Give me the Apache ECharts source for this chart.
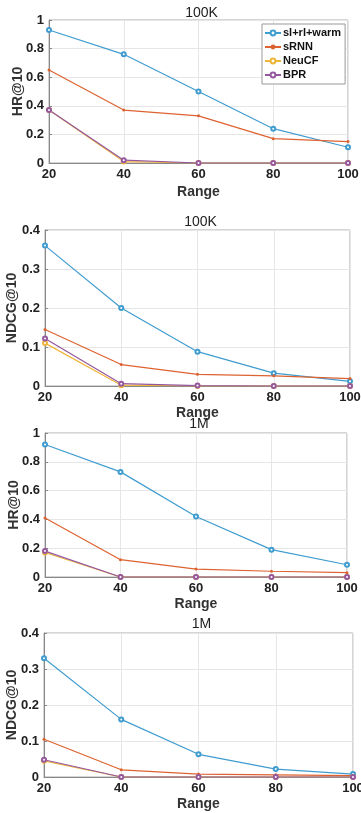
<!DOCTYPE html>
<html>
<head>
<meta charset="utf-8">
<script src="https://cdn.jsdelivr.net/npm/echarts@6/dist/echarts.min.js"></script>
<style>
  html, body { margin: 0; padding: 0; background: #fff; }
  #chart { width: 361px; height: 813px; }
</style>
</head>
<body>
<div id="chart"></div>
<script>
// x values shared by all four panels
const ranges = [20, 40, 60, 80, 100];
const methods = ['sl+rl+warm', 'sRNN', 'NeuCF', 'BPR'];
const colors = ['#3f9ccf', '#dd6230', '#efb53a', '#95589f'];

// one row per method, same order as methods
const hr100k = [
    [0.93, 0.76, 0.50, 0.24, 0.11],
    [0.65, 0.37, 0.33, 0.17, 0.15],
    [0.37, 0.01, 0, 0, 0],
    [0.37, 0.02, 0, 0, 0]
];
const ndcg100k = [
    [0.36, 0.20, 0.088, 0.033, 0.012],
    [0.145, 0.055, 0.030, 0.026, 0.019],
    [0.11, 0.002, 0, 0, 0],
    [0.122, 0.006, 0.001, 0, 0]
];
const hr1m = [
    [0.92, 0.73, 0.42, 0.19, 0.085],
    [0.41, 0.12, 0.055, 0.04, 0.03],
    [0.17, 0, 0, 0, 0],
    [0.18, 0, 0, 0, 0]
];
const ndcg1m = [
    [0.33, 0.16, 0.063, 0.022, 0.008],
    [0.105, 0.02, 0.008, 0.006, 0.004],
    [0.045, 0, 0, 0, 0],
    [0.048, 0, 0, 0, 0]
];

const panels = [
    { title: '100K', yName: 'HR@10', yMax: 1, yStep: 0.2, data: hr100k,
      grid: { left: 49, top: 20, width: 299, height: 143 }, titleTop: 1, yGap: 24, xGap: 22 },
    { title: '100K', yName: 'NDCG@10', yMax: 0.4, yStep: 0.1, data: ndcg100k,
      grid: { left: 45, top: 230, width: 305, height: 156 }, titleTop: 210, yGap: 26, xGap: 20 },
    { title: '1M', yName: 'HR@10', yMax: 1, yStep: 0.2, data: hr1m,
      grid: { left: 45, top: 433, width: 302, height: 144 }, titleTop: 412, yGap: 24, xGap: 20 },
    { title: '1M', yName: 'NDCG@10', yMax: 0.4, yStep: 0.1, data: ndcg1m,
      grid: { left: 44, top: 633, width: 309, height: 144 }, titleTop: 612, yGap: 25, xGap: 20 }
];

const font = 'Liberation Sans, Arial, sans-serif';
const mychart = echarts.init(document.getElementById('chart'), null, { renderer: 'canvas' });

const grids = [], xAxes = [], yAxes = [], titles = [], series = [];
panels.forEach((p, i) => {
    grids.push(Object.assign({
        show: true, borderColor: '#aaa', borderWidth: 1, backgroundColor: '#fff',
        containLabel: false, outerBoundsMode: 'none'
    }, p.grid));
    titles.push({
        text: p.title,
        left: p.grid.left + p.grid.width / 2 - 2,
        textAlign: 'center',
        top: p.titleTop,
        textStyle: { fontSize: 14, fontWeight: 'normal', color: '#222', fontFamily: font }
    });
    xAxes.push({
        type: 'value', gridIndex: i, min: 20, max: 100, interval: 20,
        name: 'Range', nameLocation: 'middle', nameGap: p.xGap, nameMoveOverlap: false,
        nameTextStyle: { fontSize: 14, fontWeight: 'bold', color: '#333', fontFamily: font },
        axisLine: { show: true, lineStyle: { color: '#888' } },
        axisTick: { show: true, inside: true, length: 3, lineStyle: { color: '#888' } },
        axisLabel: { fontSize: 13, fontWeight: 'bold', color: '#222', margin: 5, fontFamily: font },
        splitLine: { show: true, lineStyle: { color: '#e6e6e6' } }
    });
    yAxes.push({
        type: 'value', gridIndex: i, min: 0, max: p.yMax, interval: p.yStep,
        name: p.yName, nameLocation: 'middle', nameGap: p.yGap, nameMoveOverlap: false,
        nameTextStyle: { fontSize: 14, fontWeight: 'bold', color: '#333', fontFamily: font },
        axisLine: { show: true, lineStyle: { color: '#888' } },
        axisTick: { show: true, inside: true, length: 3, lineStyle: { color: '#888' } },
        axisLabel: { fontSize: 13, fontWeight: 'bold', color: '#222', margin: 5, fontFamily: font },
        splitLine: { show: true, lineStyle: { color: '#e6e6e6' } }
    });
    p.data.forEach((vals, k) => {
        series.push({
            name: methods[k],
            type: 'line',
            xAxisIndex: i,
            yAxisIndex: i,
            data: ranges.map((x, j) => [x, vals[j]]),
            symbol: k === 1 ? 'circle' : 'emptyCircle',
            symbolSize: k === 1 ? 3 : 4,
            lineStyle: { width: 1.2, color: colors[k] },
            itemStyle: { color: colors[k], borderWidth: 1 },
            animation: false
        });
    });
});

const option = {
    backgroundColor: '#fff',
    title: titles,
    grid: grids,
    xAxis: xAxes,
    yAxis: yAxes,
    legend: {
        data: methods,
        orient: 'vertical',
        left: 262,
        top: 24,
        width: 84,
        padding: [3, 4, 3, 2],
        itemGap: 2,
        itemWidth: 16,
        itemHeight: 6,
        backgroundColor: '#fff',
        borderColor: '#999',
        borderWidth: 1,
        borderRadius: 0,
        textStyle: { fontSize: 11, fontWeight: 'bold', color: '#111', fontFamily: font, padding: [0, 0, 0, -3], lineHeight: 12 }
    },
    series: series
};

mychart.setOption(option, true);
</script>
</body>
</html>
